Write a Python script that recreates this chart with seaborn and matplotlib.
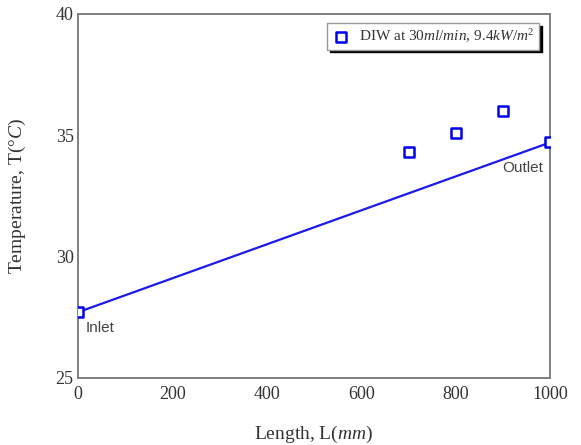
import seaborn as sns
import matplotlib.pyplot as plt
import pandas as pd

# measured wall temperatures along the channel
length_mm = [0, 700, 800, 900, 1000]
temp_c = [27.7, 34.3, 35.1, 36.0, 34.7]

# straight line between inlet and outlet
line_x = [0, 1000]
line_y = [27.7, 34.7]

x_ticks = [0, 200, 400, 600, 800, 1000]
y_ticks = [25, 30, 35, 40]

sns.set_style("white")
plt.rcParams['font.family'] = ['Liberation Serif', 'DejaVu Serif']
plt.rcParams['mathtext.fontset'] = 'custom'
plt.rcParams['mathtext.rm'] = 'Liberation Serif'
plt.rcParams['mathtext.it'] = 'Liberation Serif:italic'

df = pd.DataFrame({'L': length_mm, 'T': temp_c})
df_line = pd.DataFrame({'L': line_x, 'T': line_y})

fig = plt.figure(figsize=(5.81, 4.45), dpi=100)
ax = fig.add_axes([0.134, 0.151, 0.813, 0.818])

sns.lineplot(data=df_line, x='L', y='T', ax=ax, color='#1a1aee', linewidth=1.6)
sns.scatterplot(data=df, x='L', y='T', ax=ax, marker='s', s=50,
                facecolor='white', edgecolor='#0000ee', linewidth=1.8,
                label=r'DIW at 30$\mathit{ml/min,\,9.4kW/m^2}$', zorder=5)

ax.set_xlim(0, 1000)
ax.set_ylim(25, 40)
ax.set_xticks(x_ticks)
ax.set_yticks(y_ticks)
ax.tick_params(axis='both', direction='in', length=4, width=1, color='#707070',
               labelsize=13, labelcolor='#333333')
ax.tick_params(axis='x', pad=6)
ax.tick_params(axis='y', pad=3)
for sp in ax.spines.values():
    sp.set_color('#808080')
    sp.set_linewidth(1.4)

ax.set_xlabel(r'Length, L($\mathit{mm}$)', fontsize=14, color='#333333', labelpad=15)
ax.set_ylabel(r'Temperature, T(°$\mathit{C}$)', fontsize=14, color='#333333', labelpad=20)

ax.text(16, 26.9, 'Inlet', fontsize=11, family='Liberation Sans', color='#444444')
ax.text(985, 33.5, 'Outlet', fontsize=11, family='Liberation Sans', color='#444444', ha='right')

leg = ax.legend(loc='upper right', bbox_to_anchor=(0.977, 0.975), borderaxespad=0,
                fancybox=False, edgecolor='#999999', framealpha=1, fontsize=11,
                shadow={'color': 'black', 'alpha': 1}, handletextpad=0.6,
                handlelength=1.2, borderpad=0.3)
leg.get_frame().set_linewidth(1.0)
for t in leg.get_texts():
    t.set_color('#333333')

fig.savefig('out.png', dpi=100)
